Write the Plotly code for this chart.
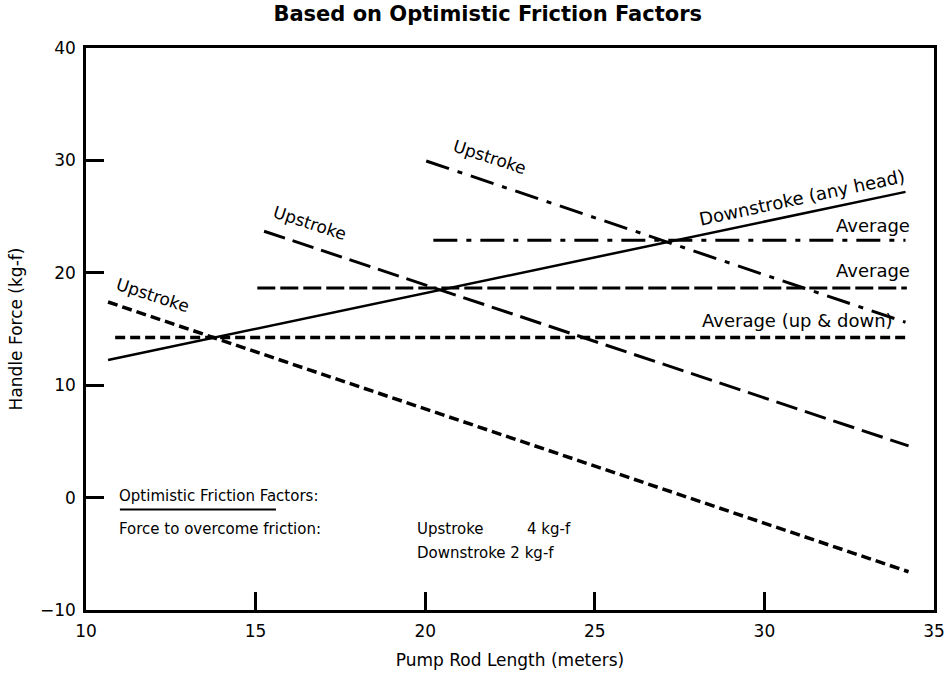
import plotly.graph_objects as go

# Handle force vs pump rod length, optimistic friction factors
rod_len_up1 = [10.65, 34.25]
force_up1 = [17.4, -6.6]
rod_len_avg1 = [10.86, 34.25]
force_avg1 = [14.25, 14.25]

rod_len_up2 = [15.25, 34.25]
force_up2 = [23.7, 4.6]
rod_len_avg2 = [15.05, 34.2]
force_avg2 = [18.65, 18.65]

rod_len_up3 = [20.03, 34.16]
force_up3 = [29.95, 15.6]
rod_len_avg3 = [20.24, 34.16]
force_avg3 = [22.9, 22.9]

rod_len_down = [10.65, 34.16]
force_down = [12.24, 27.2]

x_ticks = [10, 15, 20, 25, 30, 35]
y_ticks = [-10, 0, 10, 20, 30, 40]

FONT = "DejaVu Sans"
INK = "black"

fig = go.Figure()


def add_line(x, y, dash, width):
    fig.add_trace(go.Scatter(x=x, y=y, mode="lines",
                             line=dict(color=INK, width=width, dash=dash),
                             showlegend=False, hoverinfo="skip"))


add_line(rod_len_up1, force_up1, "10px,5px", 3.5)
add_line(rod_len_avg1, force_avg1, "10px,5px", 3.5)
add_line(rod_len_up2, force_up2, "22px,8px", 3)
add_line(rod_len_avg2, force_avg2, "18px,5px", 3)
add_line(rod_len_up3, force_up3, "24px,9px,5px,9px", 3)
add_line(rod_len_avg3, force_avg3, "24px,9px,5px,9px", 3)
add_line(rod_len_down, force_down, "solid", 2.5)

annotations = []


def label(text, x, y, angle=0, xanchor="center", size=17):
    annotations.append(dict(text=text, x=x, y=y, xref="x", yref="y",
                            showarrow=False, textangle=angle,
                            xanchor=xanchor, yanchor="middle",
                            font=dict(family=FONT, size=size, color=INK)))


label("Upstroke", 11.95, 18.0, angle=18)
label("Upstroke", 16.6, 24.4, angle=18)
label("Upstroke", 21.9, 30.3, angle=18)
label("Downstroke (any head)", 31.1, 26.7, angle=-12, size=18)
label("Average", 34.35, 24.25, xanchor="right", size=18)
label("Average", 34.35, 20.2, xanchor="right", size=18)
label("Average (up & down)", 33.85, 15.8, xanchor="right", size=18)

# friction factor note
NOTE = 15
label("Optimistic Friction Factors:", 10.9, 0.1, xanchor="left", size=NOTE)
label("Force to overcome friction:", 10.9, -2.8, xanchor="left", size=NOTE)
label("Upstroke", 19.7, -2.8, xanchor="left", size=NOTE)
label("4 kg-f", 22.95, -2.8, xanchor="left", size=NOTE)
label("Downstroke 2 kg-f", 19.7, -4.9, xanchor="left", size=NOTE)

fig.add_shape(type="line", x0=11.0, x1=15.6, y0=-1.05, y1=-1.05,
              xref="x", yref="y", line=dict(color=INK, width=2))

axis_common = dict(showgrid=False, zeroline=False, showline=True,
                   linecolor=INK, linewidth=2.5, mirror=True,
                   ticks="inside", ticklen=18, tickwidth=2.5, tickcolor=INK,
                   ticklabelstandoff=4, ticklabeloverflow="allow",
                   automargin=False,
                   tickfont=dict(family=FONT, size=17, color=INK))

fig.update_layout(
    width=947, height=674,
    margin=dict(l=86, r=13, t=48, b=64),
    paper_bgcolor="white", plot_bgcolor="white",
    title=dict(text="<b>Based on Optimistic Friction Factors</b>",
               x=0.515, xanchor="center", y=0.98, yanchor="middle",
               font=dict(family=FONT, size=21, color=INK)),
    xaxis=dict(range=[10, 35], tickvals=x_ticks,
               title=dict(text="Pump Rod Length (meters)", standoff=14,
                          font=dict(family=FONT, size=17, color=INK)),
               **axis_common),
    yaxis=dict(range=[-10, 40], tickvals=y_ticks,
               title=dict(text="Handle Force (kg-f)", standoff=14,
                          font=dict(family=FONT, size=17, color=INK)),
               **axis_common),
    annotations=annotations,
)

fig.write_html("out.html")
